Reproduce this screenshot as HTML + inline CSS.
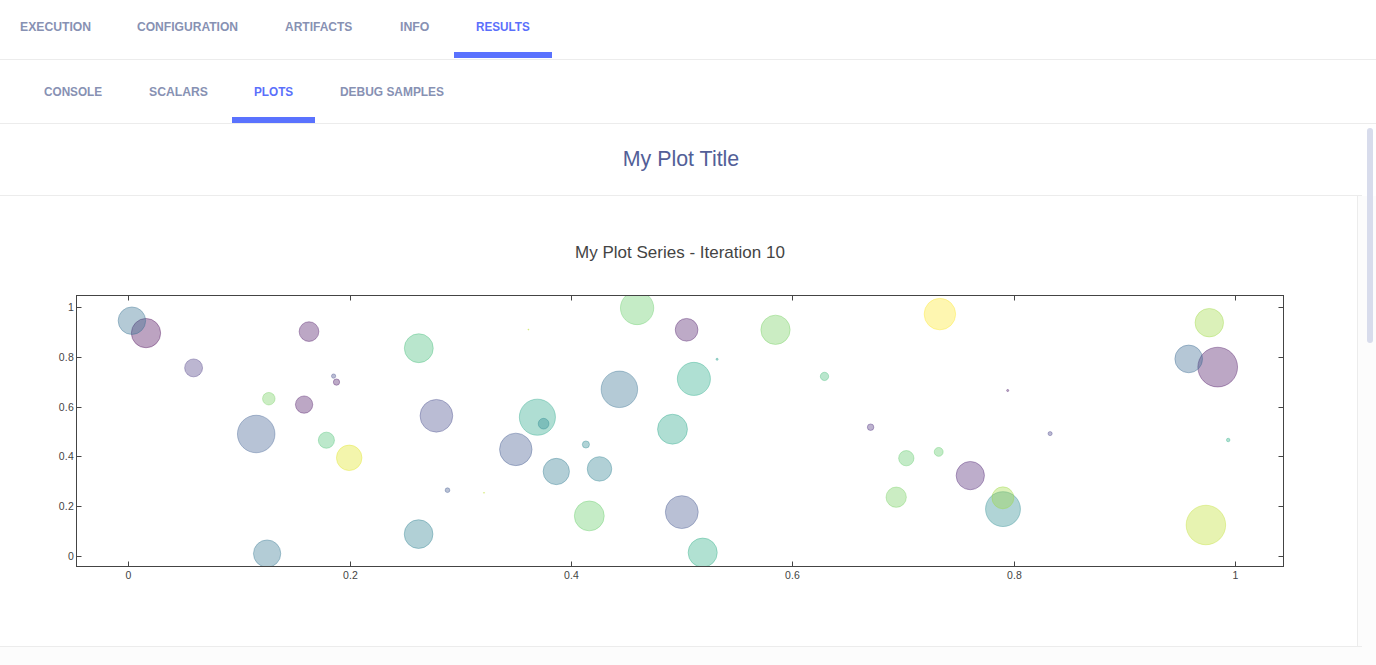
<!DOCTYPE html>
<html><head><meta charset="utf-8">
<style>
html,body{margin:0;padding:0;width:1376px;height:665px;overflow:hidden;background:#fff;font-family:"Liberation Sans",sans-serif;}
.abs{position:absolute;}
.tab{position:absolute;transform-origin:0 0;font-size:12.5px;font-weight:bold;color:#8791b3;white-space:nowrap;letter-spacing:0;}
.tab.act{color:#5a6ffb;}
.ul{position:absolute;background:#5a72fe;}
.hl{position:absolute;left:0;height:1px;background:#ececec;}
</style></head><body>
<!-- top tabs -->
<div class="tab" style="left:20.0px;top:20px;transform:scaleX(0.975);">EXECUTION</div>
<div class="tab" style="left:137.3px;top:20px;transform:scaleX(0.966);">CONFIGURATION</div>
<div class="tab" style="left:285.3px;top:20px;transform:scaleX(0.960);">ARTIFACTS</div>
<div class="tab" style="left:399.8px;top:20px;transform:scaleX(0.985);">INFO</div>
<div class="tab act" style="left:476.1px;top:20px;transform:scaleX(0.935);">RESULTS</div>
<div class="ul" style="left:454px;top:52px;width:98px;height:6px;"></div>
<div class="hl" style="top:59px;width:1376px;"></div>
<!-- sub tabs -->
<div class="abs" style="left:0;top:60px;width:1376px;height:63px;background:#fff;"></div>
<div class="tab" style="left:43.8px;top:85px;transform:scaleX(0.940);">CONSOLE</div>
<div class="tab" style="left:149.4px;top:85px;transform:scaleX(0.976);">SCALARS</div>
<div class="tab act" style="left:253.5px;top:85px;transform:scaleX(0.940);">PLOTS</div>
<div class="tab" style="left:340.1px;top:85px;transform:scaleX(0.954);">DEBUG SAMPLES</div>
<div class="ul" style="left:232px;top:117px;width:83px;height:6px;"></div>
<div class="hl" style="top:123px;width:1376px;"></div>
<!-- content -->
<div class="abs" style="left:0;top:124px;width:1376px;height:541px;background:#fcfcfc;"></div>
<div class="abs" style="left:0;top:124px;width:1376px;height:72px;background:#fff;"></div>
<div class="abs" style="left:0;top:196px;width:1357px;height:450px;background:#fff;"></div>
<div class="abs" style="left:0;top:147px;width:1362px;text-align:center;font-size:21.4px;color:#535f98;">My Plot Title</div>
<div class="hl" style="top:195px;width:1362px;"></div>
<div class="abs" style="left:1357px;top:196px;width:1px;height:450px;background:#ececec;"></div>
<div class="hl" style="top:646px;width:1362px;"></div>
<!-- scrollbar -->
<div class="abs" style="left:1367px;top:128px;width:6px;height:215px;border-radius:3px;background:#d8dcec;"></div>
<!-- plot -->
<div class="abs" style="left:0;top:243px;width:1360px;text-align:center;font-size:17px;color:#444;">My Plot Series - Iteration 10</div>
<svg class="abs" style="left:0;top:0;" width="1376" height="665" viewBox="0 0 1376 665">
<defs><clipPath id="pc"><rect x="77" y="296" width="1206" height="270"/></clipPath></defs>
<g clip-path="url(#pc)" fill-opacity="0.36" stroke-opacity="0.36" stroke-width="1">
<circle cx="146.0" cy="333.1" r="14.65" fill="rgb(68,1,84)" stroke="rgb(68,1,84)"/>
<circle cx="131.9" cy="320.7" r="13.75" fill="rgb(47,108,142)" stroke="rgb(47,108,142)"/>
<circle cx="193.6" cy="367.9" r="8.95" fill="rgb(70,52,128)" stroke="rgb(70,52,128)"/>
<circle cx="309.0" cy="331.6" r="9.85" fill="rgb(70,12,94)" stroke="rgb(70,12,94)"/>
<circle cx="333.6" cy="376.1" r="2.15" fill="rgb(65,68,135)" stroke="rgb(65,68,135)"/>
<circle cx="336.5" cy="382.1" r="3.15" fill="rgb(71,19,101)" stroke="rgb(71,19,101)"/>
<circle cx="268.8" cy="398.7" r="6.25" fill="rgb(111,206,88)" stroke="rgb(111,206,88)"/>
<circle cx="304.1" cy="404.6" r="8.65" fill="rgb(70,12,94)" stroke="rgb(70,12,94)"/>
<circle cx="256.2" cy="434.0" r="18.75" fill="rgb(55,90,140)" stroke="rgb(55,90,140)"/>
<circle cx="326.4" cy="440.2" r="8.05" fill="rgb(68,191,112)" stroke="rgb(68,191,112)"/>
<circle cx="349.2" cy="457.8" r="12.75" fill="rgb(223,227,24)" stroke="rgb(223,227,24)"/>
<circle cx="267.1" cy="553.6" r="13.65" fill="rgb(44,115,142)" stroke="rgb(44,115,142)"/>
<circle cx="418.8" cy="348.2" r="14.45" fill="rgb(60,187,117)" stroke="rgb(60,187,117)"/>
<circle cx="528.4" cy="329.6" r="0.50" fill="rgb(189,223,38)" stroke="rgb(189,223,38)"/>
<circle cx="436.4" cy="415.8" r="16.35" fill="rgb(65,68,135)" stroke="rgb(65,68,135)"/>
<circle cx="537.4" cy="417.2" r="18.05" fill="rgb(32,163,134)" stroke="rgb(32,163,134)"/>
<circle cx="543.6" cy="423.7" r="5.35" fill="rgb(37,132,142)" stroke="rgb(37,132,142)"/>
<circle cx="515.8" cy="449.4" r="16.25" fill="rgb(59,82,139)" stroke="rgb(59,82,139)"/>
<circle cx="556.3" cy="471.5" r="13.15" fill="rgb(42,120,142)" stroke="rgb(42,120,142)"/>
<circle cx="447.5" cy="490.2" r="2.35" fill="rgb(59,82,139)" stroke="rgb(59,82,139)"/>
<circle cx="484.0" cy="492.8" r="0.50" fill="rgb(189,223,38)" stroke="rgb(189,223,38)"/>
<circle cx="585.9" cy="444.5" r="3.55" fill="rgb(37,132,142)" stroke="rgb(37,132,142)"/>
<circle cx="599.5" cy="468.9" r="12.25" fill="rgb(40,125,142)" stroke="rgb(40,125,142)"/>
<circle cx="672.5" cy="429.2" r="14.95" fill="rgb(32,163,134)" stroke="rgb(32,163,134)"/>
<circle cx="589.3" cy="515.9" r="14.95" fill="rgb(94,201,98)" stroke="rgb(94,201,98)"/>
<circle cx="681.8" cy="512.1" r="16.45" fill="rgb(60,79,138)" stroke="rgb(60,79,138)"/>
<circle cx="619.4" cy="389.3" r="18.25" fill="rgb(47,108,142)" stroke="rgb(47,108,142)"/>
<circle cx="418.6" cy="534.1" r="14.35" fill="rgb(40,125,142)" stroke="rgb(40,125,142)"/>
<circle cx="637.1" cy="308.0" r="16.65" fill="rgb(94,201,98)" stroke="rgb(94,201,98)"/>
<circle cx="686.6" cy="329.8" r="11.35" fill="rgb(71,19,101)" stroke="rgb(71,19,101)"/>
<circle cx="717.1" cy="359.3" r="1.05" fill="rgb(30,156,137)" stroke="rgb(30,156,137)"/>
<circle cx="693.9" cy="378.9" r="16.55" fill="rgb(34,168,132)" stroke="rgb(34,168,132)"/>
<circle cx="702.7" cy="552.6" r="14.55" fill="rgb(39,173,129)" stroke="rgb(39,173,129)"/>
<circle cx="775.5" cy="329.8" r="14.65" fill="rgb(111,206,88)" stroke="rgb(111,206,88)"/>
<circle cx="824.5" cy="376.4" r="4.15" fill="rgb(60,187,117)" stroke="rgb(60,187,117)"/>
<circle cx="870.6" cy="427.2" r="3.25" fill="rgb(71,42,121)" stroke="rgb(71,42,121)"/>
<circle cx="906.3" cy="458.2" r="7.65" fill="rgb(89,199,101)" stroke="rgb(89,199,101)"/>
<circle cx="938.7" cy="451.9" r="4.45" fill="rgb(89,199,101)" stroke="rgb(89,199,101)"/>
<circle cx="970.3" cy="475.6" r="14.15" fill="rgb(72,29,111)" stroke="rgb(72,29,111)"/>
<circle cx="896.2" cy="497.2" r="10.15" fill="rgb(111,206,88)" stroke="rgb(111,206,88)"/>
<circle cx="1003.0" cy="509.1" r="17.45" fill="rgb(36,135,142)" stroke="rgb(36,135,142)"/>
<circle cx="1002.9" cy="497.8" r="10.95" fill="rgb(155,217,60)" stroke="rgb(155,217,60)"/>
<circle cx="939.9" cy="314.1" r="15.75" fill="rgb(253,231,37)" stroke="rgb(253,231,37)"/>
<circle cx="1007.7" cy="390.5" r="1.05" fill="rgb(71,19,101)" stroke="rgb(71,19,101)"/>
<circle cx="1050.1" cy="433.6" r="2.05" fill="rgb(67,62,132)" stroke="rgb(67,62,132)"/>
<circle cx="1209.3" cy="322.7" r="14.25" fill="rgb(155,217,60)" stroke="rgb(155,217,60)"/>
<circle cx="1217.7" cy="367.1" r="19.85" fill="rgb(70,12,94)" stroke="rgb(70,12,94)"/>
<circle cx="1188.7" cy="358.9" r="13.85" fill="rgb(51,100,141)" stroke="rgb(51,100,141)"/>
<circle cx="1228.2" cy="440.0" r="1.75" fill="rgb(39,173,129)" stroke="rgb(39,173,129)"/>
<circle cx="1205.9" cy="525.0" r="19.75" fill="rgb(189,223,38)" stroke="rgb(189,223,38)"/>
</g>
<g stroke="#444" stroke-width="1" fill="none">
<rect x="76.5" y="295.5" width="1207.0" height="271.0"/>
<path d="M128.5 295.5v5M128.5 566.5v-5M350.5 295.5v5M350.5 566.5v-5M571.5 295.5v5M571.5 566.5v-5M792.5 295.5v5M792.5 566.5v-5M1014.5 295.5v5M1014.5 566.5v-5M1235.5 295.5v5M1235.5 566.5v-5M76.5 556.5h5M1283.5 556.5h-5M76.5 506.5h5M1283.5 506.5h-5M76.5 456.5h5M1283.5 456.5h-5M76.5 407.5h5M1283.5 407.5h-5M76.5 357.5h5M1283.5 357.5h-5M76.5 307.5h5M1283.5 307.5h-5"/>
</g>
<g font-family="Liberation Sans, sans-serif" font-size="10.5" fill="#444" letter-spacing="0.2">
<text x="128.5" y="579" text-anchor="middle">0</text>
<text x="350.5" y="579" text-anchor="middle">0.2</text>
<text x="571.5" y="579" text-anchor="middle">0.4</text>
<text x="792.5" y="579" text-anchor="middle">0.6</text>
<text x="1014.5" y="579" text-anchor="middle">0.8</text>
<text x="1235.5" y="579" text-anchor="middle">1</text>
<text x="74" y="560.0" text-anchor="end">0</text>
<text x="74" y="510.0" text-anchor="end">0.2</text>
<text x="74" y="460.0" text-anchor="end">0.4</text>
<text x="74" y="411.0" text-anchor="end">0.6</text>
<text x="74" y="361.0" text-anchor="end">0.8</text>
<text x="74" y="311.0" text-anchor="end">1</text>
</g>
</svg>
</body></html>
